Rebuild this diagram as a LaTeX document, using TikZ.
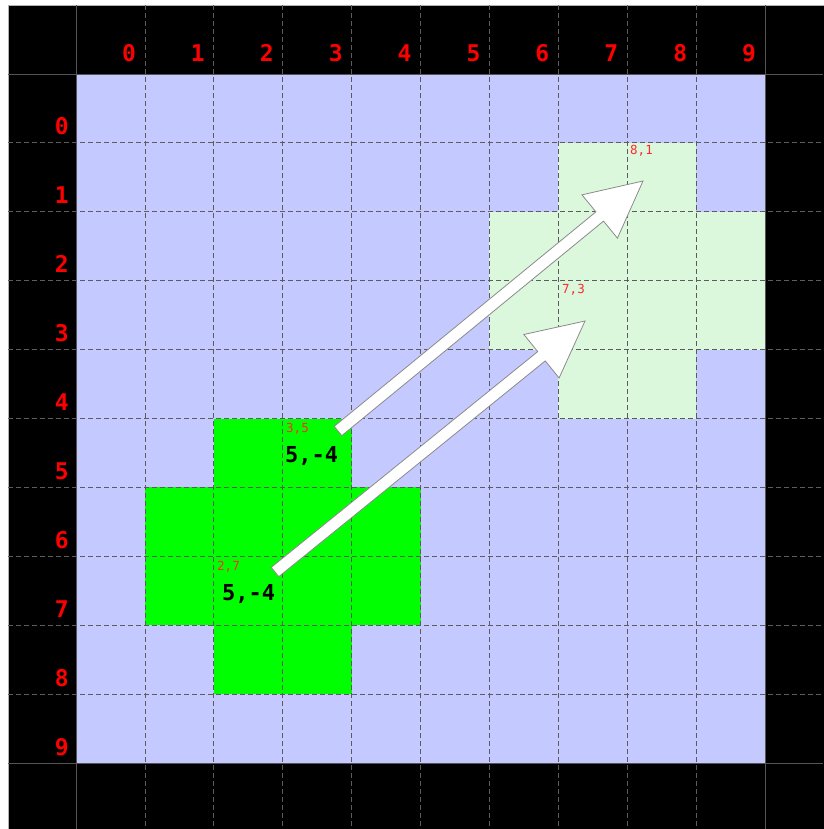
\documentclass[tikz,border=0pt]{standalone}
\usepackage{fontspec}
\setmonofont{DejaVu Sans Mono}
\usetikzlibrary{calc}
\definecolor{lav}{HTML}{C4CAFF}
\definecolor{lgreen}{HTML}{DCF8DC}
\definecolor{brgreen}{HTML}{00FF00}
\definecolor{gridc}{HTML}{5C5C5C}
\definecolor{edgec}{HTML}{555555}
\definecolor{lbl}{HTML}{FF2A2A}
\definecolor{arrc}{HTML}{8A8A8A}
\newcommand\bigarrow[2]{%
  \coordinate (#1b) at ($(#2)!56pt!(#1)$);
  \draw[arrowshape] ($(#1)!6pt!90:(#2)$) -- ($(#1b)!6pt!90:(#2)$) -- ($(#1b)!28pt!90:(#2)$) -- (#2)
    -- ($(#1b)!28pt!-90:(#2)$) -- ($(#1b)!6pt!-90:(#2)$) -- ($(#1)!6pt!-90:(#2)$) -- cycle;}
\begin{document}
\begin{tikzpicture}[x=1pt,y=-1pt,
  gridline/.style={draw=gridc, line width=0.8pt, dash pattern=on 5pt off 3pt},
  edgeline/.style={draw=edgec, line width=0.9pt},
  hdr/.style={text=red, inner sep=0pt, font=\ttfamily\bfseries\fontsize{23}{23}\selectfont},
  small/.style={text=lbl, inner sep=0pt, font=\ttfamily\fontsize{12.5}{12.5}\selectfont},
  big/.style={text=black, inner sep=0pt, font=\ttfamily\bfseries\fontsize{22}{22}\selectfont},
  arrowshape/.style={fill=white, draw=arrc, line width=0.8pt, line join=miter}]
\useasboundingbox (0,0) rectangle (823,829);
\fill[white] (0,0) rectangle (823,829);
\filldraw[fill=black, draw=black!30] (8,5) rectangle (824,830);
\fill[lav] (76,74) rectangle (765,763);
% bright green cells
\foreach \c/\r in {2/5,3/5,1/6,2/6,3/6,4/6,1/7,2/7,3/7,4/7,2/8,3/8}
  \fill[brgreen] ({76+68.9*\c},{74+68.9*\r}) rectangle ++(68.9,68.9);
% light green cells
\foreach \c/\r in {7/1,8/1,6/2,7/2,8/2,9/2,6/3,7/3,8/3,9/3,7/4,8/4}
  \fill[lgreen] ({76+68.9*\c},{74+68.9*\r}) rectangle ++(68.9,68.9);
% grid
\foreach \k in {1,...,9} {
  \draw[gridline] ({76+68.9*\k},5) -- ({76+68.9*\k},829);
  \draw[gridline] (8,{74+68.9*\k}) -- (823,{74+68.9*\k});
}
\foreach \k in {0,10} {
  \draw[edgeline] ({76+68.9*\k},5) -- ({76+68.9*\k},829);
  \draw[edgeline] (8,{74+68.9*\k}) -- (823,{74+68.9*\k});
}
% headers
\foreach \k in {0,...,9} {
  \node[hdr, anchor=base] (c\k) at ({129+68.9*\k},62) {\k};
  \node[hdr, anchor=base east] (r\k) at (69,{135+68.9*\k}) {\k};
}
% labels
\node[small, anchor=base west] (l35) at (286,432) {3,5};
\node[big, anchor=base west] (m1) at (285,462) {5,-4};
\node[small, anchor=base west] (l27) at (217,570) {2,7};
\node[big, anchor=base west] (m2) at (222,600) {5,-4};
\node[small, anchor=base west] (l81) at (630,155) {8,1};
\node[small, anchor=base west] (l73) at (562,293) {7,3};
% arrows
\coordinate (a1s) at (338,431);
\coordinate (a1t) at (643,181);
\coordinate (a2s) at (275,572);
\coordinate (a2t) at (585,321);
\bigarrow{a1s}{a1t}
\bigarrow{a2s}{a2t}
\end{tikzpicture}
\end{document}
